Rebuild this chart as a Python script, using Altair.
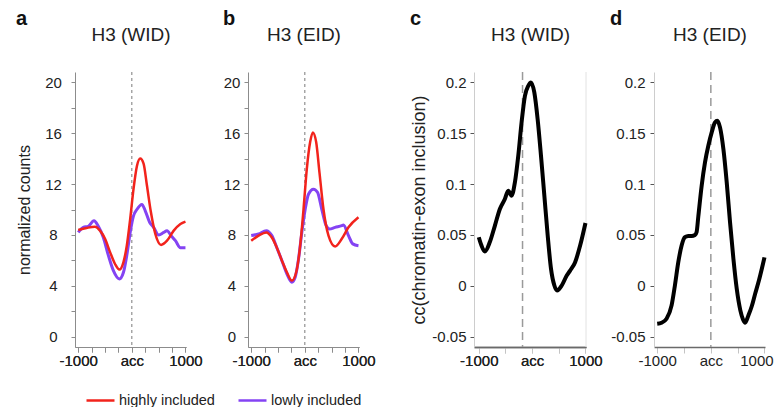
import altair as alt
import pandas as pd

FONT = "Liberation Sans"
RED = "#f2231c"
PURPLE = "#8443f3"
SERIES = ["highly included", "lowly included"]

# ---- panel a : H3 (WID), normalized counts ----
A_HIGH_X = [-1000, -844, -688, -594, -500, -406, -313, -232, -156, -94, -31, 31, 94, 156, 219, 281, 356, 438, 544, 656, 781, 906, 1000]
A_HIGH_Y = [8.39, 8.55, 8.65, 8.34, 7.7, 6.65, 5.72, 5.28, 5.87, 7.16, 9.25, 11.6, 13.4, 14.0, 13.6, 11.9, 9.78, 8.08, 7.22, 7.55, 8.34, 8.86, 9.05]
A_LOW_X = [-1000, -906, -813, -706, -625, -531, -438, -344, -232, -156, -94, -31, 31, 94, 188, 250, 331, 406, 500, 594, 656, 731, 813, 906, 1000]
A_LOW_Y = [8.2, 8.6, 8.68, 9.12, 8.68, 7.8, 6.4, 5.2, 4.55, 5.07, 6.4, 8.2, 9.5, 10.0, 10.4, 9.9, 9.0, 8.6, 8.0, 8.2, 8.34, 7.95, 7.55, 7.0, 7.0]

# ---- panel b : H3 (EID), normalized counts ----
B_HIGH_X = [-1000, -863, -720, -615, -522, -429, -335, -242, -161, -87, -25, 37, 99, 149, 211, 273, 348, 441, 565, 689, 814, 1000]
B_HIGH_Y = [7.55, 7.95, 8.2, 7.8, 7.0, 6.0, 5.07, 4.42, 5.07, 7.16, 10.0, 13.2, 15.3, 16.05, 15.3, 12.9, 10.0, 7.95, 7.1, 7.7, 8.6, 9.39]
B_LOW_X = [-1000, -863, -720, -615, -522, -429, -335, -242, -180, -118, -56, 6, 68, 161, 236, 317, 398, 460, 565, 689, 720, 814, 894, 1000]
B_LOW_Y = [7.95, 8.08, 8.34, 7.95, 7.0, 6.0, 4.94, 4.29, 4.68, 6.1, 8.2, 10.0, 11.2, 11.6, 11.35, 10.0, 8.73, 8.47, 8.6, 8.73, 8.78, 7.95, 7.3, 7.16]

# ---- panel c : H3 (WID), cc(chromatin-exon inclusion) ----
C_X = [-1000, -950, -887, -793, -699, -605, -511, -448, -386, -323, -260, -198, -135, -72, -22, 41, 103, 166, 229, 292, 354, 417, 467, 555, 649, 712, 806, 900, 1000]
C_Y = [0.0478, 0.0396, 0.0337, 0.043, 0.059, 0.0755, 0.0853, 0.0935, 0.0886, 0.1017, 0.1278, 0.1605, 0.1866, 0.1964, 0.1997, 0.1899, 0.1637, 0.1278, 0.0886, 0.0494, 0.0167, 0.0004, -0.0045, 0.0004, 0.0102, 0.015, 0.0233, 0.0396, 0.0618]
C_DASH = [-180]

# ---- panel d : H3 (EID), cc(chromatin-exon inclusion) ----
D_X = [-1000, -919, -826, -732, -670, -607, -545, -483, -420, -358, -296, -265, -234, -171, -109, -47, 16, 78, 121, 171, 234, 296, 358, 421, 483, 550, 600, 640, 700, 763, 825, 900, 1000]
D_Y = [-0.0372, -0.0362, -0.0323, -0.0192, 0.0004, 0.0233, 0.0396, 0.0478, 0.049, 0.049, 0.05, 0.053, 0.068, 0.0984, 0.1213, 0.1376, 0.1507, 0.1605, 0.1621, 0.1556, 0.1343, 0.1017, 0.0625, 0.0265, -0.0029, -0.024, -0.033, -0.0362, -0.029, -0.02, -0.008, 0.006, 0.028]
D_DASH = [0]

AB_XTICKS = [-1000, -750, -500, -250, 0, 250, 500, 750, 1000]
AB_YTICKS = [0, 2, 4, 6, 8, 10, 12, 14, 16, 18, 20]
CD_XTICKS = [-1000, -500, 0, 500, 1000]
CD_YTICKS = [-0.05, 0, 0.05, 0.1, 0.15, 0.2]
AB_DASH = [0]

XLAB = "datum.value == -1000 ? '-1000' : (datum.value == 0 ? 'acc' : (datum.value == 1000 ? '1000' : ''))"
YLAB_AB = "datum.value % 4 == 0 ? datum.label : ''"
YLAB_CD = "datum.value == 0 ? '0' : (datum.value < 0 ? '-' + format(-datum.value, '~g') : format(datum.value, '~g'))"

color_scale = alt.Scale(domain=SERIES, range=[RED, PURPLE])
legend = alt.Legend(orient="none", legendX=10, legendY=313, direction="horizontal", title=None,
                    symbolType="stroke", symbolSize=784, symbolStrokeWidth=2.5,
                    labelFontSize=14.5, labelFont=FONT, labelColor="#222", labelOffset=3,
                    columnPadding=18, padding=0)


def letter_title(letter):
    return alt.Title(letter, anchor="start", frame="bounds", fontSize=20, fontWeight="bold",
                     font=FONT, color="#111", offset=-3)


def top_axis(title):
    return alt.Axis(orient="top", title=title, labels=False, ticks=False, domain=False, grid=False,
                    titleFontSize=19, titleFontWeight="normal", titleFont=FONT, titleColor="#222",
                    titlePadding=27.5, minExtent=0, maxExtent=0)


def count_panel(letter, title, hx, hy, lx, ly, ytitle, lab_pad, ext, tpad):
    xscale = alt.Scale(domain=[-1060, 1010], nice=False, zero=False)
    yscale = alt.Scale(domain=[-0.8, 20.8], nice=False, zero=False)
    xaxis = alt.Axis(values=AB_XTICKS, labelExpr=XLAB, title=None, grid=False, tickSize=5,
                     labelPadding=1, labelFlush=False, labelOverlap=False,
                     domainColor="#8c8c8c", tickColor="#8c8c8c", labelFontSize=15,
                     labelFont=FONT, labelColor="#222")
    yaxis = alt.Axis(values=AB_YTICKS, labelExpr=YLAB_AB, title=ytitle, grid=False, tickSize=4,
                     labelPadding=lab_pad, labelAlign="center", labelOverlap=False,
                     minExtent=ext, maxExtent=ext, titlePadding=tpad,
                     domainColor="#8c8c8c", tickColor="#8c8c8c", labelFontSize=15,
                     labelFont=FONT, labelColor="#222", titleFontSize=16,
                     titleFontWeight="normal", titleFont=FONT, titleColor="#222")
    rule = alt.Chart(pd.DataFrame({"x": AB_DASH})).mark_rule(
        color="#7a7a7a", strokeDash=[3, 3], strokeWidth=1
    ).encode(x=alt.X("x:Q", scale=xscale, axis=top_axis(title)))
    low = alt.Chart(pd.DataFrame({"x": lx, "y": ly, "s": SERIES[1]})).mark_line(
        strokeWidth=3, interpolate="monotone"
    ).encode(
        x=alt.X("x:Q", scale=xscale, axis=xaxis),
        y=alt.Y("y:Q", scale=yscale, axis=yaxis),
        color=alt.Color("s:N", scale=color_scale, legend=legend),
    )
    high = alt.Chart(pd.DataFrame({"x": hx, "y": hy, "s": SERIES[0]})).mark_line(
        strokeWidth=2.5, interpolate="monotone"
    ).encode(
        x=alt.X("x:Q", scale=xscale, axis=xaxis),
        y=alt.Y("y:Q", scale=yscale, axis=yaxis),
        color=alt.Color("s:N", scale=color_scale, legend=legend),
    )
    return alt.layer(rule, low, high).resolve_axis(x="independent").properties(
        width=111, height=275, title=letter_title(letter))


def cc_panel(letter, title, xs, ys, dash, xmin, width, ytitle, lab_pad, ext, tpad, border, last_shift):
    xscale = alt.Scale(domain=[xmin, 1010], nice=False, zero=False)
    yscale = alt.Scale(domain=[-0.06, 0.21], nice=False, zero=False)
    xaxis = alt.Axis(values=CD_XTICKS, labelExpr=XLAB, title=None, grid=False, tickSize=6,
                     labelPadding=0, labelFlush=False, labelOverlap=False,
                     labelOffset={"condition": {"test": "datum.value == 1000", "value": last_shift}, "value": 0},
                     domainColor="#6a6a6a", domainWidth=1.5, tickColor="#c4c4c4",
                     labelFontSize=15, labelFont=FONT, labelColor="#222")
    yaxis = alt.Axis(values=CD_YTICKS, labelExpr=YLAB_CD, title=ytitle, grid=False, tickSize=4,
                     labelPadding=lab_pad, labelOverlap=False,
                     minExtent=ext, maxExtent=ext, titlePadding=tpad,
                     domainColor="#cdcdcd", tickColor="#555555", labelFontSize=15,
                     labelFont=FONT, labelColor="#222", titleFontSize=18,
                     titleFontWeight="normal", titleFont=FONT, titleColor="#222")
    layers = []
    if border:
        layers.append(alt.Chart(pd.DataFrame({"x": [1010]})).mark_rule(
            color="#e2e2e2", strokeWidth=1).encode(x=alt.X("x:Q", scale=xscale, axis=xaxis)))
    rule = alt.Chart(pd.DataFrame({"x": dash})).mark_rule(
        color="#9a9a9a", strokeDash=[8, 5], strokeWidth=1.5
    ).encode(x=alt.X("x:Q", scale=xscale, axis=top_axis(title)))
    line = alt.Chart(pd.DataFrame({"x": xs, "y": ys})).mark_line(
        color="black", strokeWidth=4, interpolate="monotone"
    ).encode(
        x=alt.X("x:Q", scale=xscale, axis=xaxis),
        y=alt.Y("y:Q", scale=yscale, axis=yaxis),
    )
    layers += [rule, line]
    return alt.layer(*layers).resolve_axis(x="independent").properties(
        width=width, height=275, title=letter_title(letter))


pa = count_panel("a", "H3 (WID)", A_HIGH_X, A_HIGH_Y, A_LOW_X, A_LOW_Y, "normalized counts", 18, 34, 9)
pb = count_panel("b", "H3 (EID)", B_HIGH_X, B_HIGH_Y, B_LOW_X, B_LOW_Y, None, 12.5, 25, 0)
pc = cc_panel("c", "H3 (WID)", C_X, C_Y, C_DASH, -1090, 112, "cc(chromatin-exon inclusion)", 4, 43, 3, True, 0)
pd_ = cc_panel("d", "H3 (EID)", D_X, D_Y, D_DASH, -1060, 111, None, 5, 44, 0, False, -8)

left = alt.hconcat(pa, pb, spacing=19)
right = alt.hconcat(pc, pd_, spacing=6)
chart = alt.hconcat(left, right, spacing=33).properties(
    padding={"left": 7, "top": 0, "right": 0, "bottom": 0}
).configure(font=FONT).configure_view(stroke="transparent")

chart.save("out.html", embed_options={"renderer": "svg", "actions": False})
